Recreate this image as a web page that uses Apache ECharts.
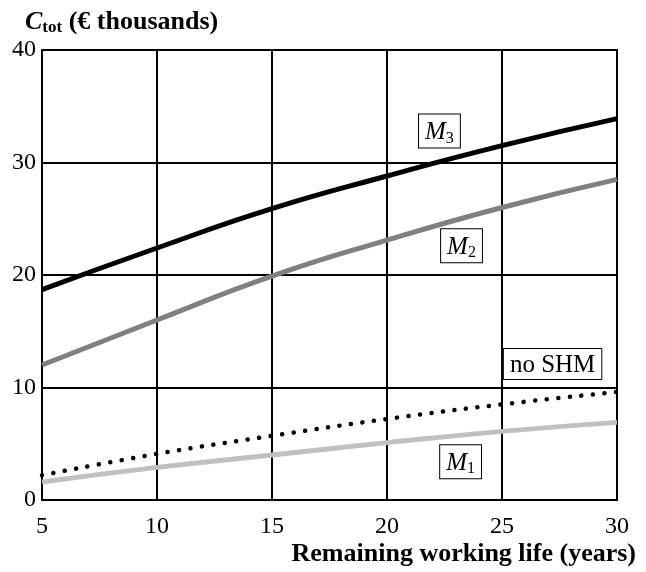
<!DOCTYPE html>
<html>
<head>
<meta charset="utf-8">
<script src="https://cdn.jsdelivr.net/npm/echarts@6/dist/echarts.min.js"></script>
<style>
  html, body { margin: 0; padding: 0; background: #fff; }
  #chart { width: 646px; height: 572px; }
</style>
</head>
<body>
<div id="chart"></div>
<script>
// remaining working life (years)
const years = [5, 10, 15, 20, 25, 30];
// total cost, € thousands
const m3 = [18.7, 22.4, 25.9, 28.8, 31.5, 33.9];
const m2 = [12.0, 16.0, 19.9, 23.1, 26.0, 28.5];
const noShm = [2.2, 4.1, 5.7, 7.2, 8.5, 9.6];
const m1 = [1.6, 2.9, 4.0, 5.1, 6.1, 6.9];

// label anchors (data coords)
const labelPos = {
  m3: [22.28, 32.8],
  m2: [23.24, 22.6],
  noShm: [27.2, 12.1],
  m1: [23.2, 3.4],
};

const serif = '"Liberation Serif", "DejaVu Serif", serif';

const pairs = (ys) => years.map((x, i) => [x, ys[i]]);

const boxLabel = (text) => ({
  show: true,
  position: 'inside',
  formatter: text,
  backgroundColor: '#fff',
  borderColor: '#000',
  borderWidth: 1,
  padding: [4, 6, 1, 6],
  rich: {
    m: { fontFamily: serif, fontStyle: 'italic', fontSize: 25, color: '#000' },
    s: { fontFamily: serif, fontSize: 16, color: '#000', padding: [12, 0, 0, 0] },
    t: { fontFamily: serif, fontSize: 25, color: '#000' },
  },
});

const tag = (pos, text) => ({
  symbol: 'rect',
  symbolSize: 0,
  silent: true,
  data: [{ coord: pos, label: boxLabel(text) }],
});

const chart = echarts.init(document.getElementById('chart'));
const option = {
  animation: false,
  backgroundColor: '#fff',
  grid: {
    left: 42, right: 29, top: 50, bottom: 72,
    show: true, borderColor: '#000', borderWidth: 2,
  },
  xAxis: {
    type: 'value',
    min: 5, max: 30, interval: 5,
    axisLine: { show: false },
    axisTick: { show: false },
    splitLine: { show: true, lineStyle: { color: '#000', width: 2 } },
    axisLabel: { fontFamily: serif, fontSize: 24, color: '#000', margin: 15 },
  },
  yAxis: {
    type: 'value',
    min: 0, max: 40, interval: 10,
    axisLine: { show: false },
    axisTick: { show: false },
    splitLine: { show: true, lineStyle: { color: '#000', width: 2 } },
    axisLabel: { fontFamily: serif, fontSize: 24, color: '#000', margin: 6 },
  },
  graphic: [
    {
      type: 'text',
      left: 25, top: 9,
      style: {
        text: '{c|C}{s|tot}{t| (€ thousands)}',
        rich: {
          c: { fontFamily: serif, fontStyle: 'italic', fontWeight: 'bold', fontSize: 26, fill: '#000' },
          s: { fontFamily: serif, fontWeight: 'bold', fontSize: 17, fill: '#000', padding: [12, 0, 0, 0] },
          t: { fontFamily: serif, fontWeight: 'bold', fontSize: 26, fill: '#000' },
        },
      },
    },
    {
      type: 'text',
      right: 10, top: 541,
      style: {
        text: 'Remaining working life (years)',
        font: 'bold 26px ' + serif,
        fill: '#000',
      },
    },
  ],
  series: [
    {
      name: 'M3', type: 'line', smooth: true, symbol: 'none',
      data: pairs(m3),
      lineStyle: { color: '#000', width: 5 },
      markPoint: tag(labelPos.m3, '{m|M}{s|3}'),
    },
    {
      name: 'M2', type: 'line', smooth: true, symbol: 'none',
      data: pairs(m2),
      lineStyle: { color: '#808080', width: 5 },
      markPoint: tag(labelPos.m2, '{m|M}{s|2}'),
    },
    {
      name: 'no SHM', type: 'line', smooth: true, symbol: 'none',
      data: pairs(noShm),
      lineStyle: { color: '#000', width: 4.5, type: [0.1, 11.5], cap: 'round' },
      markPoint: tag(labelPos.noShm, '{t|no SHM}'),
    },
    {
      name: 'M1', type: 'line', smooth: true, symbol: 'none',
      data: pairs(m1),
      lineStyle: { color: '#c0c0c0', width: 5 },
      markPoint: tag(labelPos.m1, '{m|M}{s|1}'),
    },
  ],
};
chart.setOption(option);
</script>
</body>
</html>
